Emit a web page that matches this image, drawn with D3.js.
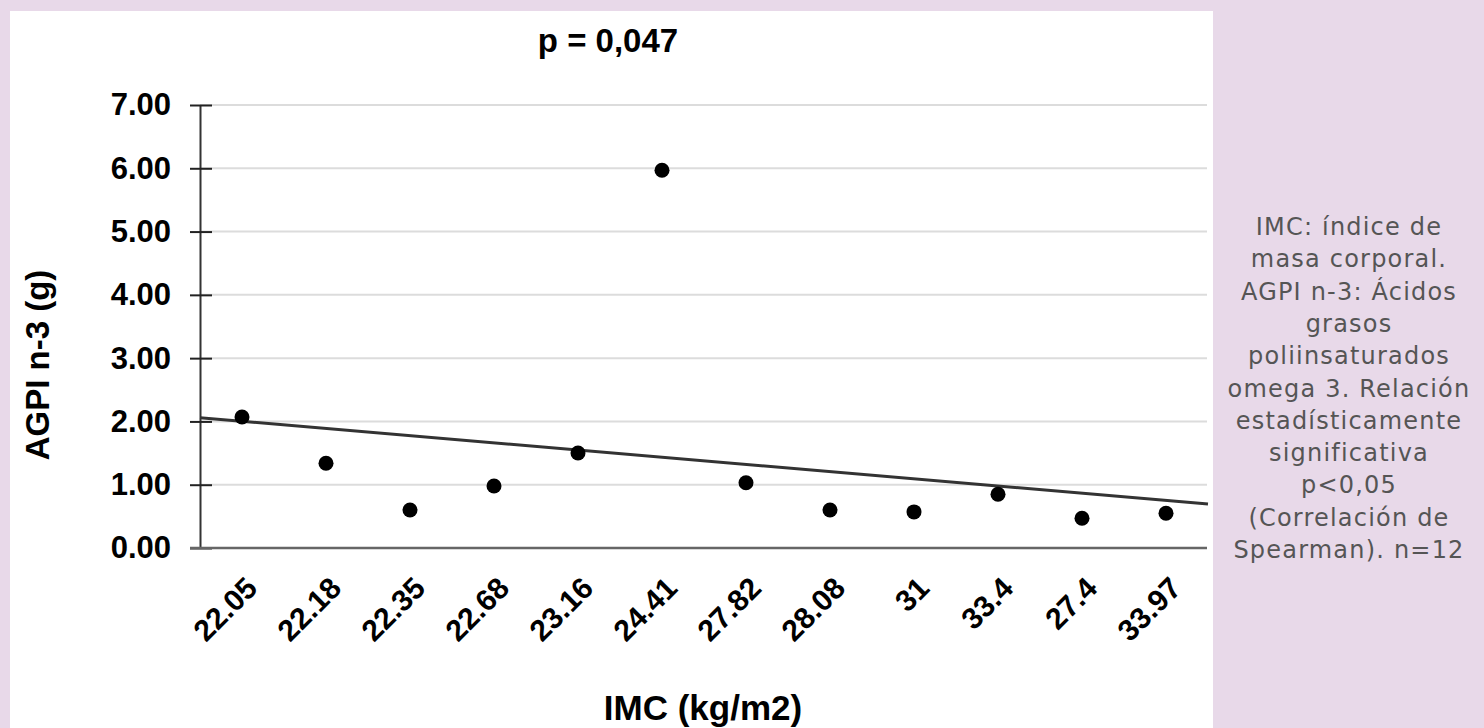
<!DOCTYPE html>
<html>
<head>
<meta charset="utf-8">
<script src="https://cdn.jsdelivr.net/npm/d3@7"></script>
<style>
  body { margin: 0; background: #e8d9e9; }
  svg { display: block; }
</style>
</head>
<body>
<svg id="chart" width="1484" height="728"></svg>
<script>
// data
var imc = ["22.05", "22.18", "22.35", "22.68", "23.16", "24.41", "27.82", "28.08", "31", "33.4", "27.4", "33.97"];
var agpi = [2.07, 1.34, 0.60, 0.98, 1.50, 5.97, 1.03, 0.60, 0.57, 0.85, 0.47, 0.55];
var yTicks = [0, 1, 2, 3, 4, 5, 6, 7];
var note = ["IMC: índice de", "masa corporal.", "AGPI n-3: Ácidos", "grasos", "poliinsaturados",
  "omega 3. Relación", "estadísticamente", "significativa", "p<0,05", "(Correlación de", "Spearman). n=12"];

var svg = d3.select("#chart");
var bold = "'Liberation Sans', Arial, sans-serif";

// white panel
svg.append("rect").attr("x", 10).attr("y", 11).attr("width", 1203).attr("height", 717).attr("fill", "#fff");

var x = d3.scaleBand().domain(imc).range([200, 1208]);
var y = d3.scaleLinear().domain([0, 7]).range([548, 105]);

// grid
svg.append("g").selectAll("line")
  .data(yTicks.filter(function(d) { return d > 0; }))
  .enter().append("line")
  .attr("x1", 200).attr("x2", 1207)
  .attr("y1", function(d) { return y(d); }).attr("y2", function(d) { return y(d); })
  .attr("stroke", "#dcdcdc").attr("stroke-width", 2);

// y axis
var yAxis = svg.append("g")
  .attr("transform", "translate(200,0)")
  .call(d3.axisLeft(y).tickValues(yTicks).tickFormat(d3.format(".2f")).tickSize(0).tickPadding(29));
yAxis.select(".domain").attr("stroke", "#333").attr("stroke-width", 2);
yAxis.selectAll("text").attr("font-family", bold).attr("font-weight", "bold").attr("font-size", 31).attr("fill", "#000");
yAxis.selectAll(".tick").append("line").attr("x1", -10).attr("x2", 12).attr("stroke", "#222").attr("stroke-width", 2);

// x axis line
svg.append("line").attr("x1", 190).attr("x2", 1207).attr("y1", y(0)).attr("y2", y(0))
  .attr("stroke", "#666").attr("stroke-width", 2.5);

// x labels
svg.append("g").selectAll("text")
  .data(imc)
  .enter().append("text")
  .attr("transform", function(d) { return "translate(" + (x(d) + x.bandwidth() / 2 + 17) + ",590) rotate(-45)"; })
  .attr("text-anchor", "end")
  .attr("font-family", bold).attr("font-weight", "bold").attr("font-size", 30)
  .text(function(d) { return d; });

// trend line (least squares on category order)
var n = agpi.length;
var mx = (n - 1) / 2, my = d3.mean(agpi);
var sxy = d3.sum(agpi, function(v, i) { return (i - mx) * (v - my); });
var sxx = d3.sum(agpi, function(v, i) { return (i - mx) * (i - mx); });
var slope = sxy / sxx;
var step = x.step();
var trend = [-0.5, n - 0.5].map(function(i) { return [x.range()[0] + (i + 0.5) * step, y(my + slope * (i - mx))]; });
svg.append("path").attr("d", d3.line()(trend)).attr("stroke", "#333").attr("stroke-width", 3).attr("fill", "none");

// points
svg.append("g").selectAll("circle")
  .data(agpi)
  .enter().append("circle")
  .attr("cx", function(d, i) { return x(imc[i]) + x.bandwidth() / 2; })
  .attr("cy", function(d) { return y(d); })
  .attr("r", 7.5)
  .attr("fill", "#000");

// titles
svg.append("text").attr("x", 608).attr("y", 52).attr("text-anchor", "middle")
  .attr("font-family", bold).attr("font-weight", "bold").attr("font-size", 33).text("p = 0,047");
svg.append("text").attr("transform", "translate(49,365) rotate(-90)").attr("text-anchor", "middle")
  .attr("font-family", bold).attr("font-weight", "bold").attr("font-size", 33).text("AGPI n-3 (g)");
svg.append("text").attr("x", 703).attr("y", 720).attr("text-anchor", "middle")
  .attr("font-family", bold).attr("font-weight", "bold").attr("font-size", 35).text("IMC (kg/m2)");

// side note
svg.append("g").selectAll("text")
  .data(note)
  .enter().append("text")
  .attr("x", 1349)
  .attr("y", function(d, i) { return 235 + i * 32.3; })
  .attr("text-anchor", "middle")
  .attr("font-family", "'DejaVu Sans', sans-serif").attr("font-size", 24)
  .attr("letter-spacing", 1.2)
  .attr("fill", "#555")
  .text(function(d) { return d; });
</script>
</body>
</html>
